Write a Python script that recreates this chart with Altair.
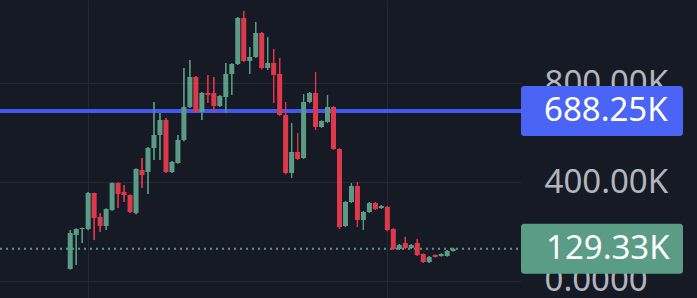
import altair as alt
import pandas as pd

# OHLC values in thousands (K)
opens = [47.5, 185.4, 209.7, 209.7, 355.7, 258.4, 221.9, 286.8, 396.3, 359.8,
         347.6, 274.6, 449.0, 440.9, 538.2, 591.0, 651.8, 440.9, 477.4, 570.7,
         704.5, 826.2, 684.2, 761.3, 761.3, 708.6, 745.1, 838.4, 878.9, 1065.5,
         891.1, 907.3, 1004.7, 862.7, 883.0, 838.4, 672.1, 436.8, 522.0, 497.7,
         724.8, 761.3, 623.4, 643.7, 704.5, 534.2, 221.9, 319.2, 384.1, 246.2,
         278.6, 315.2, 294.9, 298.9, 209.7, 128.6, 152.9, 132.6, 152.9, 108.3,
         75.8, 104.2, 100.2, 100.2, 120.5]
highs = [205.6, 212.0, 215.0, 360.0, 357.0, 274.6, 293.0, 398.0, 398.0, 388.2,
         350.0, 455.0, 497.7, 542.0, 724.8, 680.2, 660.0, 485.0, 591.0, 862.7,
         895.2, 830.0, 765.0, 834.3, 826.2, 753.0, 883.0, 882.0, 1070.0, 1093.9,
         947.9, 1049.3, 1008.0, 988.4, 939.8, 903.3, 724.8, 639.6, 599.1, 757.2,
         765.0, 846.5, 650.0, 753.2, 708.0, 537.0, 323.0, 396.3, 400.3, 282.0,
         319.0, 319.0, 307.0, 303.0, 213.0, 149.0, 177.2, 148.9, 169.1, 110.0,
         100.0, 106.0, 110.0, 124.5, 134.0]
lows = [45.0, 63.7, 152.9, 205.0, 165.1, 197.5, 205.6, 284.0, 294.9, 319.2,
        274.6, 270.0, 376.0, 351.7, 489.6, 489.6, 437.0, 437.0, 475.0, 566.0,
        700.0, 680.0, 651.8, 720.8, 680.2, 705.0, 680.2, 753.2, 875.0, 887.0,
        838.4, 903.0, 858.0, 854.6, 720.8, 668.0, 432.0, 416.5, 490.0, 494.0,
        720.0, 611.2, 620.0, 640.0, 530.0, 210.0, 218.0, 315.0, 217.8, 205.6,
        275.0, 287.0, 290.8, 201.0, 124.5, 124.5, 128.6, 128.6, 100.2, 72.0,
        72.0, 94.0, 98.0, 98.0, 118.0]
closes = [193.5, 209.7, 213.8, 355.7, 254.3, 221.9, 290.8, 396.3, 351.7, 347.6,
          278.6, 453.1, 428.7, 538.2, 591.0, 651.8, 440.9, 481.4, 570.7, 704.5,
          826.2, 684.2, 761.3, 753.2, 708.6, 749.1, 838.4, 878.9, 1065.5, 891.1,
          907.3, 1004.7, 862.7, 883.0, 834.3, 672.1, 436.8, 522.0, 493.6, 724.8,
          761.3, 623.4, 647.7, 704.5, 534.2, 217.8, 319.2, 384.1, 246.2, 278.6,
          315.2, 290.8, 303.0, 205.6, 128.6, 144.8, 132.6, 144.8, 104.2, 75.8,
          96.1, 96.1, 108.3, 120.5, 129.33]

grid_x = [3, 53]
y_ticks = [0, 400, 800]
level_price = [688.25]
level_label = ["688.25K"]
last_price = [129.33]
last_label = ["129.33K"]

BG = "#161A25"
GREEN = "#5A9C86"
RED = "#E0384B"
BLUE_LINE = "#4358EE"
BLUE_BOX = "#4A64F6"
GRID = "#242834"

df = pd.DataFrame({
    "i": list(range(len(opens))),
    "open": opens, "high": highs, "low": lows, "close": closes,
})
df["dir"] = ["up" if c >= o else "down" for o, c in zip(opens, closes)]

xscale = alt.Scale(domain=[-10.9, 74.5], nice=False, zero=False)
yscale = alt.Scale(domain=[-70.2, 1138.5], nice=False, zero=False)

xaxis = alt.Axis(values=grid_x, labels=False, ticks=False, domain=False, title=None,
                 grid=True, gridColor=GRID, gridWidth=1)
yaxis = alt.Axis(orient="right", values=y_ticks, title=None, ticks=False, domain=False,
                 grid=True, gridColor=GRID, gridWidth=1,
                 labelFont="Noto Sans", labelFontSize=33, labelColor="#B2B5BE",
                 labelAlign="left", labelBaseline="middle", labelPadding=23,
                 labelOverlap=False, labelFlush=False,
                 labelExpr="datum.value == 0 ? '0.0000' : format(datum.value, '.2f') + 'K'")

color = alt.Color("dir:N", scale=alt.Scale(domain=["up", "down"], range=[GREEN, RED]), legend=None)

base = alt.Chart(df)

wicks = base.mark_rule(strokeWidth=1.2).encode(
    x=alt.X("i:Q", scale=xscale, axis=xaxis),
    y=alt.Y("low:Q", scale=yscale, axis=yaxis),
    y2="high:Q",
    color=color,
)
bodies = base.mark_bar(size=5, minBandSize=1).encode(
    x=alt.X("i:Q", scale=xscale),
    y=alt.Y("open:Q", scale=yscale),
    y2="close:Q",
    color=color,
)

lvl_df = pd.DataFrame({"p": level_price, "t": level_label})
last_df = pd.DataFrame({"p": last_price, "t": last_label})

blue_line = alt.Chart(lvl_df).mark_rule(color=BLUE_LINE, strokeWidth=4).encode(
    y=alt.Y("p:Q", scale=yscale), x=alt.value(0), x2=alt.value(521))
dotted = alt.Chart(last_df).mark_rule(color=GREEN, strokeWidth=2, strokeDash=[2, 4]).encode(
    y=alt.Y("p:Q", scale=yscale), x=alt.value(0), x2=alt.value(521))

blue_box = alt.Chart(lvl_df).mark_rect(color=BLUE_BOX, cornerRadius=3, yOffset=-25, y2Offset=25).encode(
    y=alt.Y("p:Q", scale=yscale), y2="p:Q", x=alt.value(521), x2=alt.value(683))
blue_txt = alt.Chart(lvl_df).mark_text(color="white", font="Noto Sans", fontSize=33,
                                       align="left", baseline="middle").encode(
    y=alt.Y("p:Q", scale=yscale), x=alt.value(544), text="t:N")
green_box = alt.Chart(last_df).mark_rect(color=GREEN, cornerRadius=3, yOffset=-25, y2Offset=25).encode(
    y=alt.Y("p:Q", scale=yscale), y2="p:Q", x=alt.value(521), x2=alt.value(683))
green_txt = alt.Chart(last_df).mark_text(color="white", font="Noto Sans", fontSize=33,
                                         align="left", baseline="middle").encode(
    y=alt.Y("p:Q", scale=yscale), x=alt.value(546), text="t:N")

chart = alt.layer(
    wicks, blue_line, dotted, bodies, wicks, blue_box, blue_txt, green_box, green_txt
).properties(
    width=521, height=298,
    autosize=alt.AutoSizeParams(type="none"),
    padding={"left": 0, "top": 0, "right": 176, "bottom": 0},
    background=BG,
).configure_view(stroke=None)

chart.save("out.html", embed_options={"renderer": "svg", "actions": False})
